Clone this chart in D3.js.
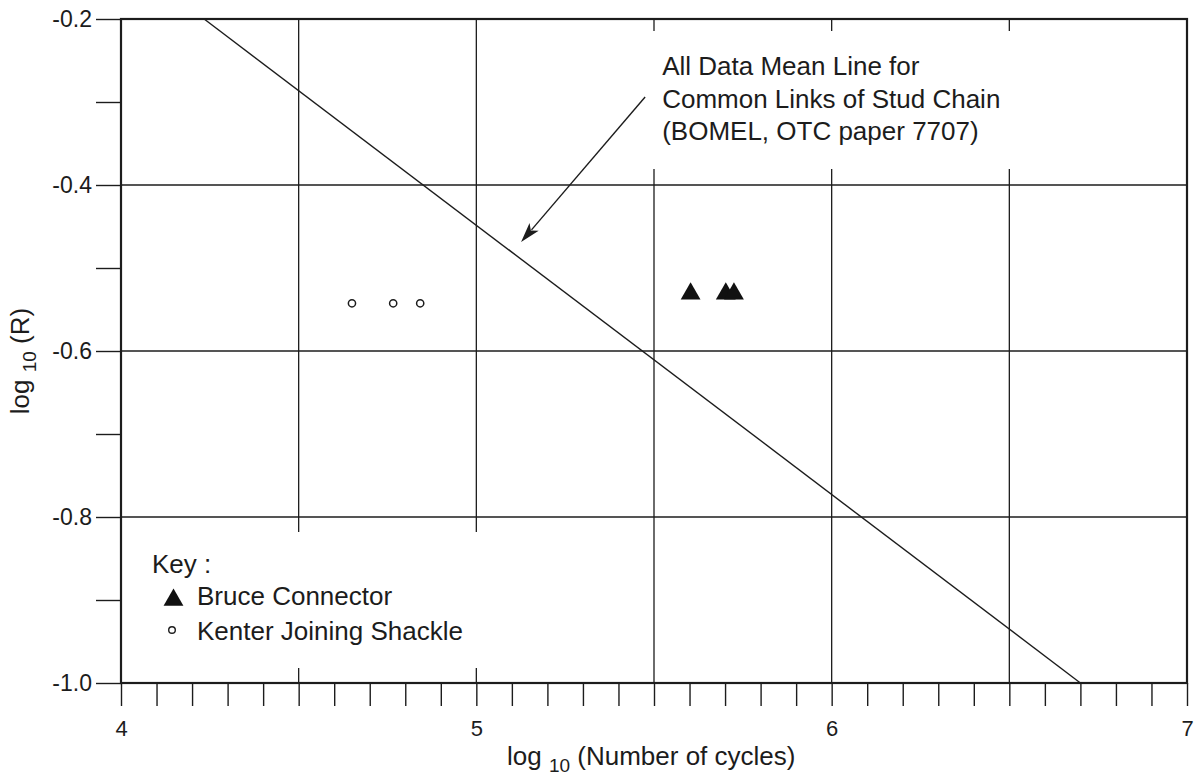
<!DOCTYPE html>
<html>
<head>
<meta charset="utf-8">
<script src="https://cdn.jsdelivr.net/npm/d3@7"></script>
<style>
  html, body { margin: 0; padding: 0; background: #fff; }
  svg { display: block; font-family: "Liberation Sans", Arial, Helvetica, sans-serif; }
  .tick line { stroke: #1c1c1c; stroke-width: 1.4; }
  .tick text { fill: #1c1c1c; }
</style>
</head>
<body>
<svg id="chart"></svg>
<script>
// values
const xDomain = [4, 7];
const yDomain = [-1.0, -0.2];
const xLabelTicks = [4, 5, 6, 7];
const yLabelTicks = [-1.0, -0.8, -0.6, -0.4, -0.2];
const xGrid = [4.5, 5.0, 5.5, 6.0, 6.5];
const yGrid = [-0.4, -0.6, -0.8];

// All Data Mean Line (BOMEL) end points
const meanLine = [
  { x: 4.234, y: -0.2 },
  { x: 6.70, y: -1.0 }
];

// Bruce Connector
const bruceX = [5.603, 5.702, 5.725];
const bruceY = [-0.531, -0.531, -0.531];

// Kenter Joining Shackle
const kenterX = [4.650, 4.766, 4.842];
const kenterY = [-0.5425, -0.5425, -0.5425];

const noteLines = [
  'All Data Mean Line for',
  'Common Links of Stud Chain',
  '(BOMEL, OTC paper 7707)'
];
const noteAnchor = { x: 5.523, y: -0.2675 };
const arrowFrom = { x: 5.475, y: -0.294 };
const arrowTo = { x: 5.126, y: -0.4687 };

const width = 1195;
const height = 778;
const margin = { top: 19, right: 8, bottom: 95, left: 121 };
const ink = '#1c1c1c';

const svg = d3.select('#chart').attr('width', width).attr('height', height);

const xScale = d3.scaleLinear().domain(xDomain).range([margin.left, width - margin.right]);
const yScale = d3.scaleLinear().domain(yDomain).range([height - margin.bottom, margin.top]);

const x0 = xScale(xDomain[0]), x1 = xScale(xDomain[1]);
const y0 = yScale(yDomain[0]), y1 = yScale(yDomain[1]);

// grid
svg.append('g').selectAll('line.vg')
  .data(xGrid)
  .enter().append('line')
  .attr('x1', d => xScale(d)).attr('x2', d => xScale(d))
  .attr('y1', y1).attr('y2', y0)
  .attr('stroke', ink).attr('stroke-width', 1.3);
svg.append('g').selectAll('line.hg')
  .data(yGrid)
  .enter().append('line')
  .attr('x1', x0).attr('x2', x1)
  .attr('y1', d => yScale(d)).attr('y2', d => yScale(d))
  .attr('stroke', ink).attr('stroke-width', 1.3);

// white boxes behind the note and the key
svg.append('rect')
  .attr('x', xScale(5.35)).attr('y', yScale(-0.2) + 12)
  .attr('width', xScale(6.75) - xScale(5.35))
  .attr('height', (yScale(-0.4) - 16) - (yScale(-0.2) + 12))
  .attr('fill', '#fff');
svg.append('rect')
  .attr('x', x0 + 2).attr('y', yScale(-0.8) + 15)
  .attr('width', xScale(5.3) - x0)
  .attr('height', (yScale(-1.0) - 15) - (yScale(-0.8) + 15))
  .attr('fill', '#fff');

// axes
const fmt1 = d => d.toFixed(1);
const yAxis = d3.axisLeft(yScale)
  .tickValues(d3.range(-10, -1).map(d => d / 10))
  .tickSize(25).tickPadding(4)
  .tickFormat(d => yLabelTicks.some(v => Math.abs(v - d) < 1e-6) ? fmt1(d) : '');
const gy = svg.append('g').attr('transform', `translate(${x0},0)`).call(yAxis);
gy.select('.domain').remove();
gy.selectAll('text').attr('font-size', 23).attr('font-family', null);

const xAxis = d3.axisBottom(xScale)
  .tickValues(d3.range(40, 71).map(d => d / 10))
  .tickSize(23).tickPadding(14)
  .tickFormat(d => xLabelTicks.some(v => Math.abs(v - d) < 1e-6) ? d3.format('d')(d) : '');
const gx = svg.append('g').attr('transform', `translate(0,${y0})`).call(xAxis);
gx.select('.domain').remove();
gx.selectAll('text').attr('font-size', 22).attr('font-family', null);

// mean line
const line = d3.line().x(d => xScale(d.x)).y(d => yScale(d.y));
svg.append('path')
  .datum(meanLine)
  .attr('d', line)
  .attr('fill', 'none')
  .attr('stroke', ink)
  .attr('stroke-width', 1.4);

// frame
svg.append('rect')
  .attr('x', x0).attr('y', y1)
  .attr('width', x1 - x0).attr('height', y0 - y1)
  .attr('fill', 'none')
  .attr('stroke', ink)
  .attr('stroke-width', 2.2);

// data points
const tri = d3.symbol().type(d3.symbolTriangle).size(170);
svg.append('g').selectAll('path')
  .data(bruceX.map((x, i) => ({ x, y: bruceY[i] })))
  .enter().append('path')
  .attr('d', tri)
  .attr('transform', d => `translate(${xScale(d.x)},${yScale(d.y)})`)
  .attr('fill', '#111');

svg.append('g').selectAll('circle')
  .data(kenterX.map((x, i) => ({ x, y: kenterY[i] })))
  .enter().append('circle')
  .attr('cx', d => xScale(d.x))
  .attr('cy', d => yScale(d.y))
  .attr('r', 3.6)
  .attr('fill', '#fff')
  .attr('stroke', ink)
  .attr('stroke-width', 1.5);

// note + arrow
svg.append('text')
  .attr('x', xScale(noteAnchor.x))
  .attr('y', yScale(noteAnchor.y))
  .attr('font-size', 26)
  .attr('fill', ink)
  .selectAll('tspan')
  .data(noteLines)
  .enter().append('tspan')
  .attr('x', xScale(noteAnchor.x))
  .attr('dy', (d, i) => i === 0 ? 0 : 32.5)
  .text(d => d);

const ax1 = xScale(arrowFrom.x), ay1 = yScale(arrowFrom.y);
const ax2 = xScale(arrowTo.x), ay2 = yScale(arrowTo.y);
const ang = Math.atan2(ay2 - ay1, ax2 - ax1);
const headLen = 20, headHalf = 6;
svg.append('line')
  .attr('x1', ax1).attr('y1', ay1)
  .attr('x2', ax2 - Math.cos(ang) * headLen * 0.8)
  .attr('y2', ay2 - Math.sin(ang) * headLen * 0.8)
  .attr('stroke', ink).attr('stroke-width', 1.4);
const bx = ax2 - Math.cos(ang) * headLen, by = ay2 - Math.sin(ang) * headLen;
svg.append('path')
  .attr('d', `M${ax2},${ay2}L${bx - Math.sin(ang) * headHalf},${by + Math.cos(ang) * headHalf}` +
    `L${ax2 - Math.cos(ang) * headLen * 0.75},${ay2 - Math.sin(ang) * headLen * 0.75}` +
    `L${bx + Math.sin(ang) * headHalf},${by - Math.cos(ang) * headHalf}Z`)
  .attr('fill', ink);

// key
const key = svg.append('g').attr('font-size', 26).attr('fill', ink);
key.append('text').attr('x', 152).attr('y', 573).text('Key :');
key.append('path')
  .attr('d', d3.symbol().type(d3.symbolTriangle).size(170)())
  .attr('transform', 'translate(173.5,600)')
  .attr('fill', '#111');
key.append('text').attr('x', 197).attr('y', 605).text('Bruce Connector');
key.append('circle')
  .attr('cx', 172).attr('cy', 630).attr('r', 3.3)
  .attr('fill', '#fff').attr('stroke', ink).attr('stroke-width', 1.4);
key.append('text').attr('x', 197).attr('y', 640).text('Kenter Joining Shackle');

// axis titles
const xt = svg.append('text')
  .attr('x', 507).attr('y', 765)
  .attr('font-size', 26).attr('fill', ink);
xt.append('tspan').text('log ');
xt.append('tspan').attr('font-size', 19).attr('dy', 7).text('10');
xt.append('tspan').attr('dy', -7).text(' (Number of cycles)');

const yt = svg.append('text')
  .attr('transform', 'translate(29,361) rotate(-90)')
  .attr('text-anchor', 'middle')
  .attr('font-size', 26).attr('fill', ink);
yt.append('tspan').text('log ');
yt.append('tspan').attr('font-size', 19).attr('dy', 7).text('10');
yt.append('tspan').attr('dy', -7).text(' (R)');
</script>
</body>
</html>
